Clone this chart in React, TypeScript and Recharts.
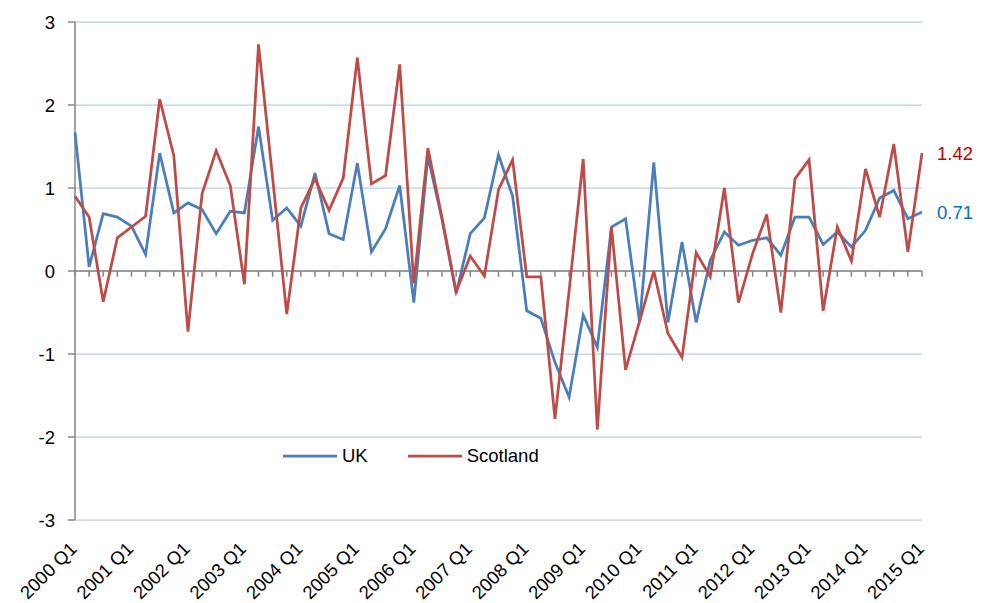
import React from 'react';
import { LineChart, Line, XAxis, YAxis, CartesianGrid, ReferenceLine, Legend } from 'recharts';

const categories = [
  '2000 Q1','2000 Q2','2000 Q3','2000 Q4','2001 Q1','2001 Q2','2001 Q3','2001 Q4',
  '2002 Q1','2002 Q2','2002 Q3','2002 Q4','2003 Q1','2003 Q2','2003 Q3','2003 Q4',
  '2004 Q1','2004 Q2','2004 Q3','2004 Q4','2005 Q1','2005 Q2','2005 Q3','2005 Q4',
  '2006 Q1','2006 Q2','2006 Q3','2006 Q4','2007 Q1','2007 Q2','2007 Q3','2007 Q4',
  '2008 Q1','2008 Q2','2008 Q3','2008 Q4','2009 Q1','2009 Q2','2009 Q3','2009 Q4',
  '2010 Q1','2010 Q2','2010 Q3','2010 Q4','2011 Q1','2011 Q2','2011 Q3','2011 Q4',
  '2012 Q1','2012 Q2','2012 Q3','2012 Q4','2013 Q1','2013 Q2','2013 Q3','2013 Q4',
  '2014 Q1','2014 Q2','2014 Q3','2014 Q4','2015 Q1',
];

const tickLabels = [
  '2000 Q1','2001 Q1','2002 Q1','2003 Q1','2004 Q1','2005 Q1','2006 Q1','2007 Q1',
  '2008 Q1','2009 Q1','2010 Q1','2011 Q1','2012 Q1','2013 Q1','2014 Q1','2015 Q1',
];

const yTicks = [-3, -2, -1, 0, 1, 2, 3];

const ukValues = [
  1.67, 0.05, 0.69, 0.65, 0.54, 0.20, 1.42, 0.70,
  0.82, 0.74, 0.45, 0.72, 0.70, 1.74, 0.61, 0.76,
  0.54, 1.18, 0.45, 0.38, 1.30, 0.23, 0.51, 1.03,
  -0.38, 1.38, 0.62, -0.27, 0.45, 0.64, 1.40, 0.90,
  -0.48, -0.57, -1.10, -1.52, -0.53, -0.92, 0.53, 0.63,
  -0.62, 1.31, -0.62, 0.35, -0.62, 0.13, 0.47, 0.31,
  0.37, 0.40, 0.19, 0.65, 0.65, 0.32, 0.47, 0.29,
  0.49, 0.88, 0.97, 0.63, 0.71,
];

const scotlandValues = [
  0.90, 0.65, -0.37, 0.40, 0.53, 0.66, 2.07, 1.39,
  -0.73, 0.93, 1.45, 1.03, -0.16, 2.73, 1.12, -0.52,
  0.76, 1.11, 0.73, 1.12, 2.57, 1.05, 1.15, 2.49,
  -0.15, 1.48, 0.64, -0.25, 0.18, -0.06, 0.98, 1.34,
  -0.07, -0.07, -1.78, -0.24, 1.35, -1.91, 0.53, -1.19,
  -0.60, 0.00, -0.75, -1.04, 0.22, -0.07, 1.00, -0.38,
  0.21, 0.68, -0.50, 1.11, 1.34, -0.48, 0.53, 0.12,
  1.23, 0.65, 1.53, 0.23, 1.42,
];

const data = categories.map((c, i) => ({ name: c, uk: ukValues[i], scotland: scotlandValues[i] }));

const FONT = '"Liberation Sans", Arial, sans-serif';
const UK_COLOR = '#4a7ebb';
const SCOT_COLOR = '#be4b48';
const AXIS_COLOR = '#868686';
const GRID_COLOR = '#b9cde5';
const lastIndex = categories.length - 1;

const XTick = (props: any) => {
  const { x, y, payload } = props;
  const ax = x + 3;
  const ay = y + 30;
  return (
    <text x={ax} y={ay} textAnchor="end" fontSize={18.5} fontFamily={FONT} fill="#000"
      transform={`rotate(-45, ${ax}, ${ay})`}>
      {payload.value}
    </text>
  );
};

const YTick = (props: any) => {
  const { x, y, payload } = props;
  return (
    <g>
      <line x1={68} y1={y} x2={75} y2={y} stroke={AXIS_COLOR} strokeWidth={1.5} />
      <text x={x} y={y} dy="0.36em" textAnchor="end" fontSize={18.5} fontFamily={FONT} fill="#000">
        {payload.value}
      </text>
    </g>
  );
};

const makeEndLabel = (color: string) => (props: any) => {
  const { x, y, index, value } = props;
  if (index !== lastIndex) return <g />;
  return (
    <text x={x + 15} y={y} dy="0.35em" fontSize={18.5} fontFamily={FONT} fill={color}>
      {Number(value).toFixed(2)}
    </text>
  );
};

const LegendContent = () => (
  <div style={{ display: 'flex', alignItems: 'center', fontFamily: FONT, fontSize: 18.5, color: '#000' }}>
    <svg width={54} height={6}><line x1={0} y1={3} x2={54} y2={3} stroke={UK_COLOR} strokeWidth={2.75} /></svg>
    <span style={{ marginLeft: 5 }}>UK</span>
    <svg width={54} height={6} style={{ marginLeft: 40 }}><line x1={0} y1={3} x2={54} y2={3} stroke={SCOT_COLOR} strokeWidth={2.75} /></svg>
    <span style={{ marginLeft: 5 }}>Scotland</span>
  </div>
);

export default function App() {
  return (
    <div style={{ position: 'absolute', left: 0, top: 0, background: '#fff' }}>
      <LineChart width={981} height={603} data={data}
        margin={{ top: 22, right: 59, bottom: 3, left: 0 }}>
        <CartesianGrid vertical={false} stroke={GRID_COLOR} strokeWidth={1.25} />
        <XAxis dataKey="name" scale="point" padding={{ left: 0, right: 0 }} ticks={tickLabels}
          interval={0} axisLine={false} tickLine={false} tickSize={0} tickMargin={0}
          height={80} tick={<XTick />} />
        <YAxis domain={[-3, 3]} ticks={yTicks} width={75}
          axisLine={false} tickLine={false} tickSize={0} tickMargin={20}
          tick={<YTick />} />
        <ReferenceLine x={categories[0]} stroke={AXIS_COLOR} strokeWidth={1.5} />
        <ReferenceLine y={0} stroke={AXIS_COLOR} strokeWidth={1.5} />
        {categories.map((c) => (
          <ReferenceLine key={c} segment={[{ x: c, y: 0 }, { x: c, y: -0.07 }]}
            stroke={AXIS_COLOR} strokeWidth={1.5} />
        ))}
        <Legend layout="horizontal" verticalAlign="middle" align="center"
          wrapperStyle={{ position: 'absolute', left: 283, top: 445, width: 320 }}
          content={<LegendContent />} />
        <Line type="linear" dataKey="uk" name="UK" stroke={UK_COLOR} strokeWidth={2.75}
          dot={false} activeDot={false} isAnimationActive={false} label={makeEndLabel('#0070c0')} />
        <Line type="linear" dataKey="scotland" name="Scotland" stroke={SCOT_COLOR} strokeWidth={2.75}
          dot={false} activeDot={false} isAnimationActive={false} label={makeEndLabel('#c00000')} />
      </LineChart>
    </div>
  );
}
